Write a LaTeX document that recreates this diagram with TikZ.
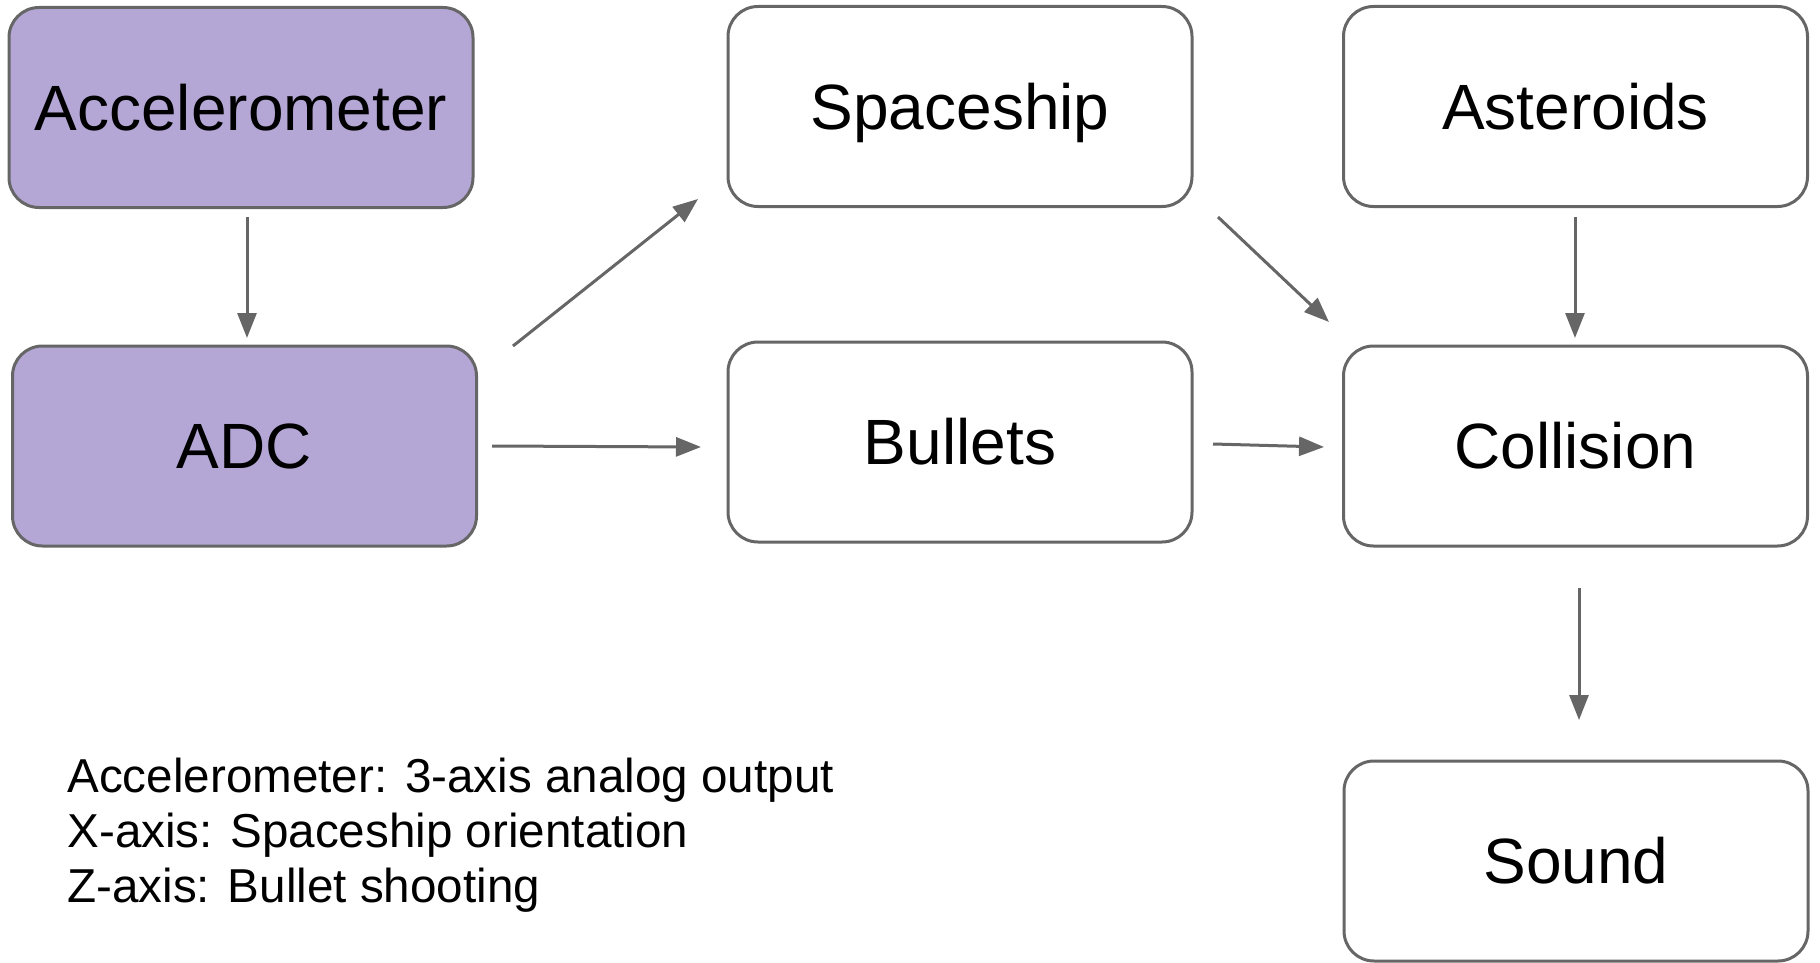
\documentclass[tikz,border=0pt]{standalone}
\usepackage{fontspec}
\setmainfont{Liberation Sans}
\usetikzlibrary{arrows.meta}
\definecolor{edgegray}{HTML}{666666}
\definecolor{lav}{HTML}{B4A7D6}
\tikzset{
  blockbox/.style={draw=edgegray, line width=1.5pt, rounded corners=15pt, minimum width=232pt, minimum height=100pt, inner sep=0pt, text height=22.9pt, text depth=0pt, font=\fontsize{32}{38}\selectfont, text=black},
  hwbox/.style={blockbox, fill=lav},
  flowarrow/.style={draw=edgegray, line width=1.5pt, -{Triangle[length=12.5pt,width=9.5pt]}},
  notetext/.style={anchor=base west, inner sep=0pt, font=\fontsize{23.8}{27.5}\selectfont},
}
\begin{document}
\begin{tikzpicture}[x=0.5pt,y=-0.5pt]
\useasboundingbox (0,0) rectangle (1820,963);
\node[hwbox] (acc) at (241,107.5) {Accelerometer};
\node[hwbox] (adc) at (244.5,446) {ADC};
\node[blockbox] (ship) at (960,106.5) {Spaceship};
\node[blockbox] (bul) at (960,442) {Bullets};
\node[blockbox] (ast) at (1575.5,106.5) {Asteroids};
\node[blockbox] (col) at (1575.5,446) {Collision};
\node[blockbox] (snd) at (1576,861) {Sound};

\coordinate (a1) at (247,217); \coordinate (a2) at (247,338);
\coordinate (b1) at (513,346); \coordinate (b2) at (698,199);
\coordinate (c1) at (492,446); \coordinate (c2) at (701,447);
\coordinate (d1) at (1218,217); \coordinate (d2) at (1329,322);
\coordinate (e1) at (1575,217); \coordinate (e2) at (1575,338);
\coordinate (f1) at (1213,444); \coordinate (f2) at (1324,447);
\coordinate (g1) at (1579,588); \coordinate (g2) at (1579,720);

\draw[flowarrow] (a1) -- (a2);
\draw[flowarrow] (b1) -- (b2);
\draw[flowarrow] (c1) -- (c2);
\draw[flowarrow] (d1) -- (d2);
\draw[flowarrow] (e1) -- (e2);
\draw[flowarrow] (f1) -- (f2);
\draw[flowarrow] (g1) -- (g2);

\node[notetext] (n1) at (67,792) {Accelerometer: 3-axis analog output};
\node[notetext] (n2) at (67,847) {X-axis: Spaceship orientation};
\node[notetext] (n3) at (67,902) {Z-axis: Bullet shooting};
\end{tikzpicture}
\end{document}
